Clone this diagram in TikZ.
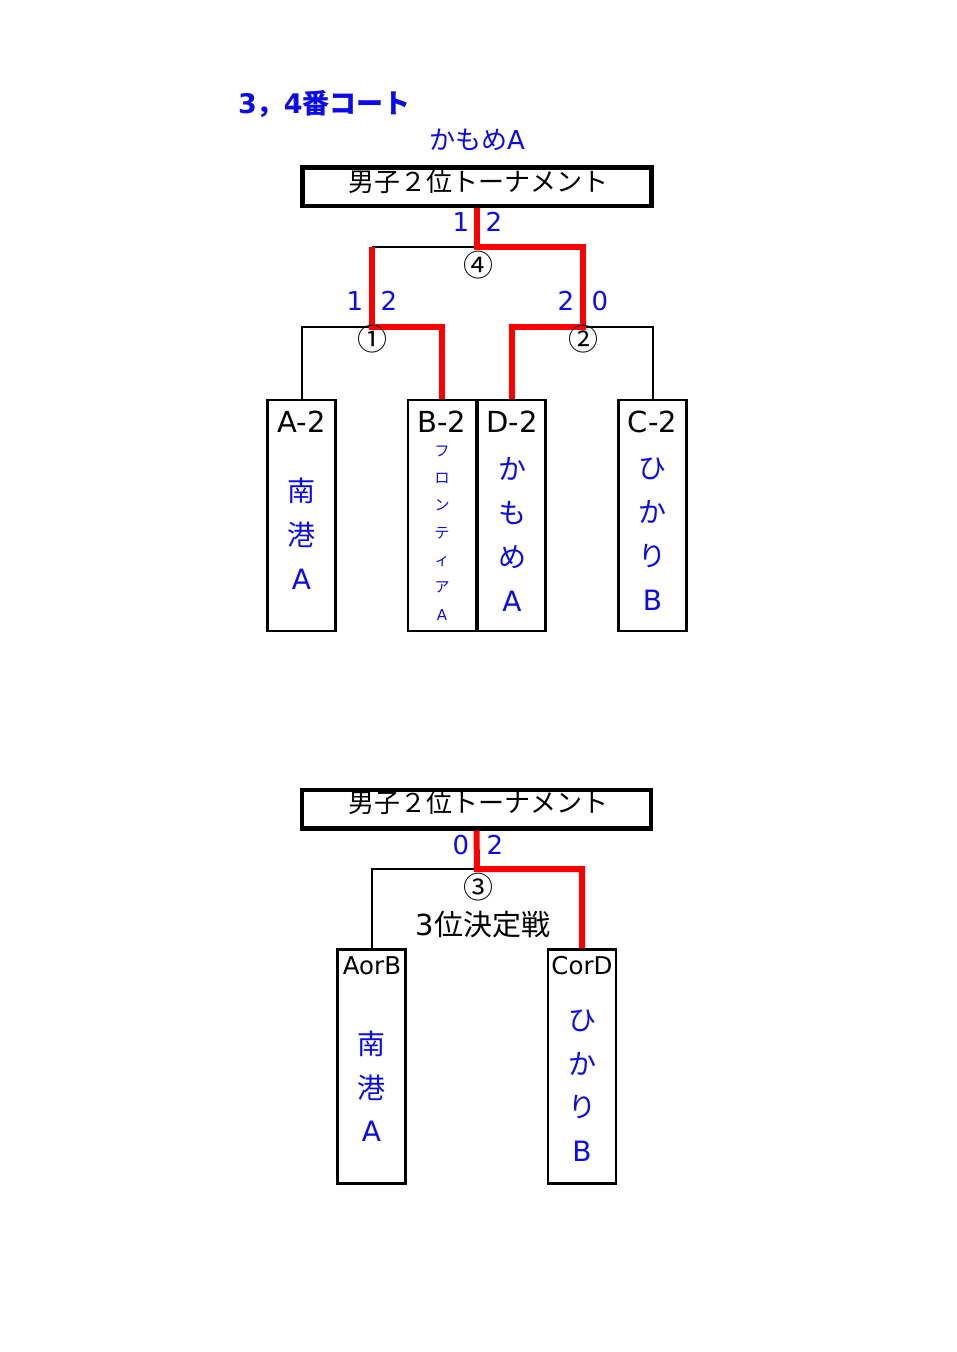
\documentclass[tikz,border=0pt]{standalone}
\usepackage{fontspec}
\setmainfont{Noto Sans CJK JP}
\newfontfamily\lat{DejaVu Sans}
\definecolor{tblue}{RGB}{10,10,235}
\definecolor{wred}{RGB}{255,0,0}
\begin{document}
\begin{tikzpicture}[x=1pt,y=-1pt,
  hdrbox/.style={draw,line width=4.5pt,minimum width=349pt,minimum height=38.5pt,inner sep=0pt},
  teambox/.style={draw,line width=2.5pt,minimum width=68pt,minimum height=231pt,inner sep=0pt},
  teambox2/.style={draw,line width=2.5pt,minimum width=68pt,minimum height=234pt,inner sep=0pt},
  txt/.style={inner sep=0pt,font=\fontsize{26}{30}\selectfont},
  lbl/.style={inner sep=0pt,font=\lat\fontsize{29}{32}\selectfont},
  lbls/.style={inner sep=0pt,font=\lat\fontsize{24.5}{26}\selectfont},
  score/.style={inner sep=0pt,text=tblue,font=\lat\fontsize{26}{30}\selectfont},
  circ/.style={inner sep=0pt,font=\fontsize{30}{32}\selectfont},
  team/.style={inner sep=0pt,text=tblue,align=center,font=\fontsize{28}{44}\selectfont},
  teamsmall/.style={inner sep=0pt,text=tblue,align=center,font=\fontsize{15}{27.3}\selectfont},
  bk/.style={draw=black,line width=2pt},
  rd/.style={draw=wred,line width=6pt}]
\useasboundingbox (0,0) rectangle (956,1352);

% ---------- top section ----------
\node[inner sep=0pt,text=tblue,font=\fontsize{27}{30}\bfseries\selectfont,anchor=west] (title) at (238,104) {{\lat\bfseries 3}，{\lat\bfseries 4}番コート};
\node[txt,text=tblue] (champ) at (477,140) {かもめ{\lat A}};
\node[hdrbox] (hdr) at (477,186.5) {};
\node[txt] (hdrtxt) at (478,182) {男子２位トーナメント};

\node[teambox] (A2) at (301.5,515.5) {};
\node[teambox] (B2) at (442,515.5) {};
\node[teambox] (D2) at (511.5,515.5) {};
\node[teambox] (C2) at (652.5,515.5) {};

\coordinate (j4) at (477,247);
\coordinate (j4l) at (372,247);
\coordinate (j1) at (372,327);
\coordinate (j2) at (583,327);

\draw[bk] (j4l) -- (j4);
\draw[bk] (A2.north) |- (j1);
\draw[bk] (C2.north) |- (j2);
\draw[rd] (B2.north) |- (j1) -- (j4l);
\draw[rd] (hdr.south) -- (j4) -| (j2) -| (D2.north);

\node[score] (s4a) at (461,222) {1};
\node[score] (s4b) at (494,222) {2};
\node[score] (s1a) at (355,301) {1};
\node[score] (s1b) at (389,301) {2};
\node[score] (s2a) at (566,301) {2};
\node[score] (s2b) at (600,301) {0};

\node[circ] (m4) at (478,265) {④};
\node[circ] (m1) at (372,339) {①};
\node[circ] (m2) at (583,339) {②};

\node[lbl] (A2l) at (301.5,422) {A-2};
\node[lbl] (B2l) at (442,422) {B-2};
\node[lbl] (D2l) at (512,422) {D-2};
\node[lbl] (C2l) at (652.5,422) {C-2};

\node[team] (A2t) at (301.5,534) {南\\港\\{\lat A}};
\node[teamsmall] (B2t) at (442,533) {フ\\ロ\\ン\\テ\\ィ\\ア\\{\lat A}};
\node[team] (D2t) at (512,534.5) {か\\も\\め\\{\lat A}};
\node[team] (C2t) at (652.5,534.5) {ひ\\か\\り\\{\lat B}};

% ---------- bottom section ----------
\node[hdrbox] (hdr2) at (476.5,809) {};
\node[txt] (hdr2txt) at (478,803) {男子２位トーナメント};

\node[teambox2] (AB) at (371.5,1066.5) {};
\node[teambox2] (CD) at (582,1066.5) {};

\coordinate (j3) at (477,869);

\draw[bk] (AB.north) |- (j3);
\draw[rd] (hdr2.south) -- (j3) -| (CD.north);

\node[score] (s3a) at (461,845) {0};
\node[score] (s3b) at (495,845) {2};
\node[circ] (m3) at (478,887) {③};
\node[inner sep=0pt,font=\fontsize{29}{32}\selectfont] (third) at (483,925) {{\lat 3}位決定戦};

\node[lbls] (ABl) at (372,966) {AorB};
\node[lbls] (CDl) at (582,966) {CorD};

\node[team,font=\fontsize{28}{43.5}\selectfont] (ABt) at (371.5,1086.5) {南\\港\\{\lat A}};
\node[team,font=\fontsize{28}{43.7}\selectfont] (CDt) at (582,1085.5) {ひ\\か\\り\\{\lat B}};
\end{tikzpicture}
\end{document}
